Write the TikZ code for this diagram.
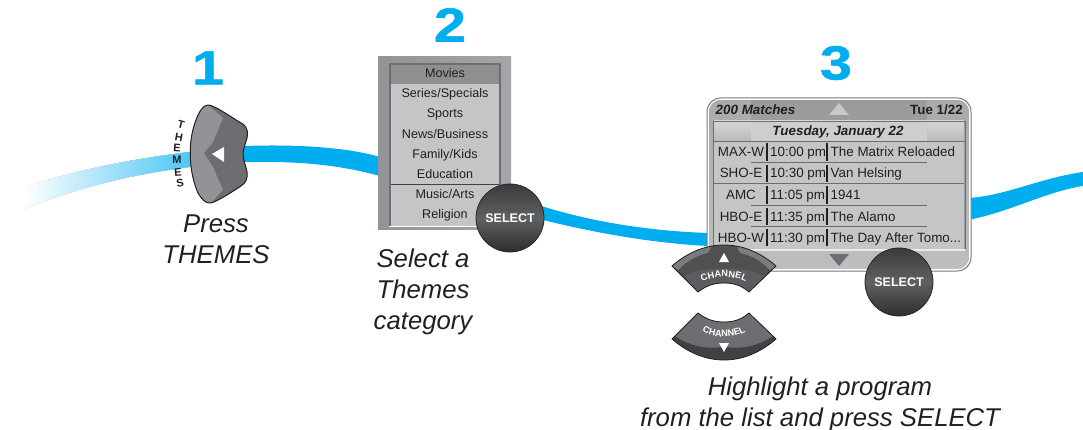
\documentclass[tikz,border=0pt]{standalone}
\usepackage{fontspec}
\setmainfont{Liberation Sans}
\newfontfamily\numfont[FakeBold=1]{Liberation Sans Bold}
\usetikzlibrary{decorations.text}
\definecolor{rib}{HTML}{00AEEF}
\definecolor{btnd}{HTML}{404143}
\definecolor{btnl}{HTML}{6D6E71}
\definecolor{scr}{HTML}{C4C5C7}
\definecolor{frame}{HTML}{9A9B9E}
\definecolor{ink}{HTML}{231F20}
\tikzset{
  bignum/.style={font=\fontsize{48}{48}\numfont,text=rib,inner sep=0pt,xscale=1.2},
  captxt/.style={font=\fontsize{25.7}{31}\selectfont\itshape,text=ink,inner sep=0pt},
  rowtxt/.style={font=\fontsize{12.6}{14}\selectfont,text=ink,inner sep=0pt,anchor=base},
  lst/.style={font=\fontsize{13.4}{14}\selectfont,text=ink,inner sep=0pt,anchor=base west},
  lbl/.style={font=\fontsize{11}{11}\selectfont\bfseries,text=ink,inner sep=0pt},
  selbtn/.style={circle,minimum size=68pt,inner sep=0pt,draw=black!85,line width=.8pt,top color=btnd!90!black,bottom color=btnd!70!black,middle color=btnl!70!btnd,text=white,font=\fontsize{12.5}{13}\selectfont\bfseries},
}
\newcommand{\chshape}{(672,266) .. controls (688,252) and (706,245) .. (724,245) .. controls (742,245) and (760,252) .. (776,266) -- (749,292) .. controls (741,285) and (733,283) .. (724,283) .. controls (715,283) and (707,285) .. (698,292) -- cycle}
\newcommand{\thshape}{(208,105) .. controls (215,105) and (235,120) .. (243,124) .. controls (248,128) and (248,134) .. (247,138) .. controls (245,145) and (243,150) .. (243,154) .. controls (243,160) and (246,166) .. (247,172) .. controls (248,178) and (246,183) .. (241,186) .. controls (232,192) and (218,201) .. (211,203) .. controls (205,204) and (201,198) .. (198,193) .. controls (188,170) and (188,140) .. (196,120) .. controls (199,112) and (203,105) .. (208,105) -- cycle}
\newcommand{\pnshape}{(721,98) -- (957,98) .. controls (965,98) and (971,104) .. (971,112) -- (971,257) .. controls (971,265) and (965,271) .. (957,271) -- (721,271) .. controls (713,271) and (707,265) .. (707,257) -- (707,112) .. controls (707,104) and (713,98) .. (721,98) -- cycle}
\newcommand{\listrow}[5]{%
  \node[lst,anchor=base] (r#2a) at (741,#1) {#3};
  \node[lst] (r#2b) at (770,#1) {#4};
  \node[lst] (r#2c) at (830.5,#1) {#5};
}
\begin{document}
\begin{tikzpicture}[x=1pt,y=-1pt,line join=round]
\useasboundingbox (0,0) rectangle (1083,430);
% ribbons
\begin{scope}
\clip (25,187) .. controls (80,168) and (150,154) .. (245,146) .. controls (300,144) and (350,148) .. (380,157) -- (380,176) .. controls (340,165) and (300,161) .. (245,162) .. controls (150,168) and (80,187) .. (25,209) -- cycle;
\fill[left color=white,right color=rib!72!white,shading angle=90] (24,130) rectangle (195,215);
\fill[rib] (195,130) rectangle (380,215);
\end{scope}
\begin{scope}
\clip (20,130) rectangle (195,215);
\draw[white,line width=1pt] (25,186.5) .. controls (80,167.5) and (150,153.5) .. (245,145.5);
\draw[white,line width=1pt] (25,209.5) .. controls (80,187.5) and (150,168.5) .. (245,162.5);
\end{scope}
\fill[rib] (535,204) .. controls (590,222) and (650,231) .. (708,233) -- (708,246) .. controls (650,243) and (590,232) .. (535,218) -- cycle;
\fill[rib] (968,198) .. controls (1005,196) and (1040,178) .. (1083,172) -- (1083,186) .. controls (1045,192) and (1010,212) .. (968,220) -- cycle;
% numbers
\node[bignum] (n1) at (208,68) {1};
\node[bignum] (n2) at (450,25) {2};
\node[bignum] (n3) at (836,63) {3};
% themes button
\fill[btnl] \thshape;
\fill[frame!95!black] (223,118) -- (213,142) -- (204,153) -- (213,167) -- (223,190) -- (211,203) .. controls (205,204) and (201,198) .. (198,193) .. controls (188,170) and (188,140) .. (196,120) .. controls (199,112) and (203,105) .. (208,105) -- cycle;
\draw[ink,line width=1pt] \thshape;
\fill[white] (212,154) -- (224,147) -- (224,162) -- cycle;
\node[lbl,rotate=-14] (t1) at (181,125) {T};
\node[lbl,rotate=-10] (t2) at (179,137) {H};
\node[lbl,rotate=-4] (t3) at (177,148) {E};
\node[lbl,rotate=0] (t4) at (177,160) {M};
\node[lbl,rotate=5] (t5) at (178,172) {E};
\node[lbl,rotate=10] (t6) at (180,183) {S};
% menu
\fill[left color=frame!95!black,right color=frame!90!white] (378,57) rectangle (511,230);
\fill[scr] (389,63) rectangle (501,226);
\fill[frame!92!black] (389,63) rectangle (501,84);
\draw[btnl,line width=1.2pt] (390,226) -- (390,64) -- (500,64) -- (500,226);
\draw[white,line width=1pt] (389,226.5) -- (501,226.5);
\draw[ink!85,line width=.8pt] (391,184) -- (499,184);
\node[rowtxt] (m1) at (445,77.5) {Movies};
\node[rowtxt] (m2) at (445,98) {Series/Specials};
\node[rowtxt] (m3) at (445,118) {Sports};
\node[rowtxt] (m4) at (445,138.5) {News/Business};
\node[rowtxt] (m5) at (445,158.5) {Family/Kids};
\node[rowtxt] (m6) at (445,179) {Education};
\node[rowtxt] (m7) at (445,199) {Music/Arts};
\node[rowtxt] (m8) at (445,219) {Religion};
\node[selbtn] (s1) at (510,218) {SELECT};
% captions
\node[captxt,align=center] (c1) at (216,239.5) {Press\\THEMES};
\node[captxt,align=center] (c2) at (423,292) {Select a\\Themes\\category};
\node[captxt,align=center] (c3) at (820,404) {Highlight a program\\from the list and press SELECT};
% panel
\begin{scope}
\clip \pnshape;
\fill[top color=frame!85!white,bottom color=frame!65!white] (707,98) rectangle (971,271);
\fill[frame!85!black,opacity=.4] (751,99.5) rectangle (927,121);
\fill[frame] (713,120) rectangle (965,250);
\fill[scr] (714,141) rectangle (964,249);
\fill[top color=frame!40!white,bottom color=frame!70!white] (714,121) rectangle (964,141);
\fill[scr!85!white] (751,122) rectangle (927,141);
\draw[btnl,line width=.8pt] (713,121) rectangle (965,141);
\draw[btnl,line width=.8pt] (713,141) -- (713,249) (965,141) -- (965,249);
\fill[white!92!black] (713,249) rectangle (965,251);
\draw[white,line width=3.6pt] \pnshape;
\end{scope}
\draw[frame!80!black,line width=1pt] \pnshape;
\fill[frame!55!white] (839,103) -- (849,115) -- (829,115) -- cycle;
\fill[btnl] (829,254) -- (849,254) -- (839,266) -- cycle;
\draw[frame!70!black,line width=1pt] (751,162.5) -- (927,162.5) (751,206) -- (927,206) (751,227) -- (927,227);
\draw[btnl,line width=1pt] (714,184) -- (964,184);
\draw[ink,line width=1.2pt] (767,143) -- (767,161) (767,165) -- (767,182) (767,186) -- (767,204) (767,208) -- (767,225) (767,229) -- (767,246);
\draw[ink,line width=1.2pt] (827,143) -- (827,161) (827,165) -- (827,182) (827,186) -- (827,204) (827,208) -- (827,225) (827,229) -- (827,246);
\node[font=\fontsize{13.4}{14}\selectfont\bfseries\itshape,text=ink,inner sep=0pt,anchor=base west] (h1) at (715.5,114.5) {200 Matches};
\node[font=\fontsize{13.4}{14}\selectfont\bfseries,text=ink,inner sep=0pt,anchor=base east] (h2) at (963,114.5) {Tue 1/22};
\node[font=\fontsize{13.4}{14}\selectfont\bfseries\itshape,text=ink,inner sep=0pt,anchor=base] (h3) at (838,135.5) {Tuesday, January 22};
\listrow{156.5}{a}{MAX-W}{10:00 pm}{The Matrix Reloaded}
\listrow{178}{b}{SHO-E}{10:30 pm}{Van Helsing}
\listrow{200}{c}{AMC}{11:05 pm}{1941}
\listrow{221.5}{d}{HBO-E}{11:35 pm}{The Alamo}
\listrow{243}{e}{HBO-W}{11:30 pm}{The Day After Tomo...}
\node[selbtn] (s2) at (899,282) {SELECT};
% channel up
\begin{scope}
\clip \chshape;
\fill[btnd!92!white] (660,240) rectangle (790,295);
\fill[btnl!90!white] (672,266) .. controls (688,252) and (700,246) .. (712,245) -- (708,253) .. controls (698,255) and (688,260) .. (678,270) -- cycle;
\fill[btnl!90!white] (776,266) .. controls (760,252) and (748,246) .. (736,245) -- (740,253) .. controls (750,255) and (760,260) .. (770,270) -- cycle;
\fill[btnl!60!btnd] (684,276) .. controls (700,266) and (748,266) .. (764,276) -- (749,295) -- (698,295) -- cycle;
\end{scope}
\draw[ink,line width=.8pt] \chshape;
\fill[white] (724,253) -- (729,262) -- (719,262) -- cycle;
\path[postaction={decorate,decoration={text along path,text align=center,text={|\fontsize{9.2}{10}\selectfont\bfseries\color{white}|CHANNEL}}}] (696,286) .. controls (708,274) and (740,274) .. (752,286);
% channel down
\begin{scope}[shift={(0,605)},yscale=-1]
\fill[btnd] \chshape;
\clip \chshape;
\fill[btnl] (672,271) .. controls (695,255) and (712,257) .. (724,258) .. controls (736,257) and (753,255) .. (776,271) -- (749,295) -- (698,295) -- cycle;
\end{scope}
\begin{scope}[shift={(0,605)},yscale=-1]
\draw[ink,line width=.8pt] \chshape;
\fill[white] (724,253) -- (729,262) -- (719,262) -- cycle;
\end{scope}
\path[postaction={decorate,decoration={text along path,text align=center,text={|\fontsize{9.2}{10}\selectfont\bfseries\color{white}|CHANNEL}}}] (696,327) .. controls (708,340) and (740,340) .. (752,327);
\end{tikzpicture}
\end{document}
